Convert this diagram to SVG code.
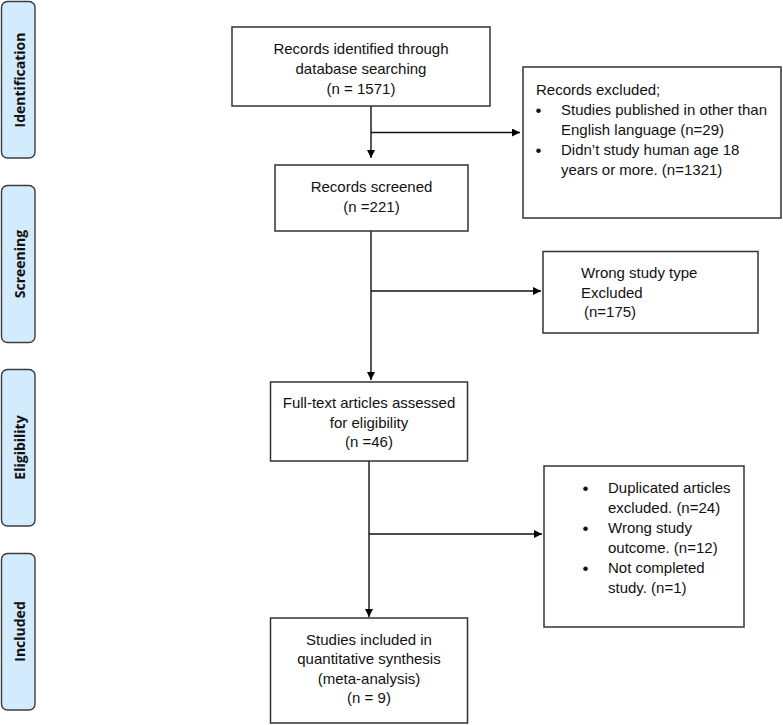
<svg xmlns="http://www.w3.org/2000/svg" width="783" height="725" viewBox="0 0 783 725">
<defs>
<marker id="arr" viewBox="0 0 10 10" refX="10" refY="5" markerWidth="8" markerHeight="8" markerUnits="userSpaceOnUse" orient="auto">
<path d="M0,0 L10,5 L0,10 z" fill="#000"/>
</marker>
<style>
.stage{fill:#d2ebfd;stroke:#3c3c3c;stroke-width:1.4}
.stxt{font-family:"Open Sans","Noto Sans",sans-serif;font-weight:bold;font-size:14px;fill:#111;text-anchor:middle}
.box{fill:#fff;stroke:#333;stroke-width:1.5}
.t{font-family:"Liberation Sans",Arial,sans-serif;font-size:15px;fill:#111}
.c{text-anchor:middle}
.b{font-size:17px}
.conn{fill:none;stroke:#111;stroke-width:1.4}
</style>
</defs>
<rect width="783" height="725" fill="#fff"/>

<g id="stage-identification">
<rect class="stage" x="1.5" y="1.5" width="33.5" height="156.5" rx="6"/>
<text class="stxt" transform="translate(25,80) rotate(-90)">Identification</text>
</g>
<g id="stage-screening">
<rect class="stage" x="1.5" y="185.5" width="33.5" height="157" rx="6"/>
<text class="stxt" transform="translate(25,264) rotate(-90)">Screening</text>
</g>
<g id="stage-eligibility">
<rect class="stage" x="1.5" y="369.5" width="33.5" height="156.5" rx="6"/>
<text class="stxt" transform="translate(25,447.5) rotate(-90)">Eligibility</text>
</g>
<g id="stage-included">
<rect class="stage" x="1.5" y="553.5" width="33.5" height="156.5" rx="6"/>
<text class="stxt" transform="translate(25,631.5) rotate(-90)">Included</text>
</g>

<g id="connectors">
<line class="conn" x1="371" y1="106" x2="371" y2="158" marker-end="url(#arr)"/>
<line class="conn" x1="371" y1="132.5" x2="520" y2="132.5" marker-end="url(#arr)"/>
<line class="conn" x1="371" y1="231" x2="371" y2="380" marker-end="url(#arr)"/>
<line class="conn" x1="371" y1="291" x2="541" y2="291" marker-end="url(#arr)"/>
<line class="conn" x1="369" y1="461" x2="369" y2="617" marker-end="url(#arr)"/>
<line class="conn" x1="369" y1="534" x2="542" y2="534" marker-end="url(#arr)"/>
</g>

<g id="records-identified">
<rect class="box" x="232" y="27" width="258" height="79"/>
<text class="t c" x="361" y="54">Records identified through</text>
<text class="t c" x="361" y="74">database searching</text>
<text class="t c" x="361" y="94">(n = 1571)</text>
</g>

<g id="records-excluded">
<rect class="box" x="523" y="67" width="258" height="151"/>
<text class="t" x="536" y="95">Records excluded;</text>
<text class="t b" x="535.5" y="116">•</text>
<text class="t" x="561" y="115">Studies published in other than</text>
<text class="t" x="561" y="135">English language (n=29)</text>
<text class="t b" x="535.5" y="156">•</text>
<text class="t" x="561" y="155">Didn’t study human age 18</text>
<text class="t" x="561" y="175">years or more. (n=1321)</text>
</g>

<g id="records-screened">
<rect class="box" x="275" y="165" width="193" height="66"/>
<text class="t c" x="371.5" y="192">Records screened</text>
<text class="t c" x="371.5" y="212">(n =221)</text>
</g>

<g id="wrong-study-type">
<rect class="box" x="543" y="251.5" width="215" height="81.5"/>
<text class="t" x="581" y="278">Wrong study type</text>
<text class="t" x="581" y="298">Excluded</text>
<text class="t" x="584" y="317">(n=175)</text>
</g>

<g id="full-text">
<rect class="box" x="270.5" y="382" width="197" height="79"/>
<text class="t c" x="369" y="408">Full-text articles assessed</text>
<text class="t c" x="369" y="428">for eligibility</text>
<text class="t c" x="369" y="447">(n =46)</text>
</g>

<g id="fulltext-excluded">
<rect class="box" x="544" y="466" width="200" height="161"/>
<text class="t b" x="582.5" y="494">•</text>
<text class="t" x="608" y="493">Duplicated articles</text>
<text class="t" x="608" y="513">excluded. (n=24)</text>
<text class="t b" x="582.5" y="534">•</text>
<text class="t" x="608" y="533">Wrong study</text>
<text class="t" x="608" y="553">outcome. (n=12)</text>
<text class="t b" x="582.5" y="574">•</text>
<text class="t" x="608" y="573">Not completed</text>
<text class="t" x="608" y="593">study. (n=1)</text>
</g>

<g id="studies-included">
<rect class="box" x="270.5" y="618" width="197" height="105"/>
<text class="t c" x="369" y="645">Studies included in</text>
<text class="t c" x="369" y="664">quantitative synthesis</text>
<text class="t c" x="369" y="684">(meta-analysis)</text>
<text class="t c" x="369" y="703">(n = 9)</text>
</g>
</svg>
